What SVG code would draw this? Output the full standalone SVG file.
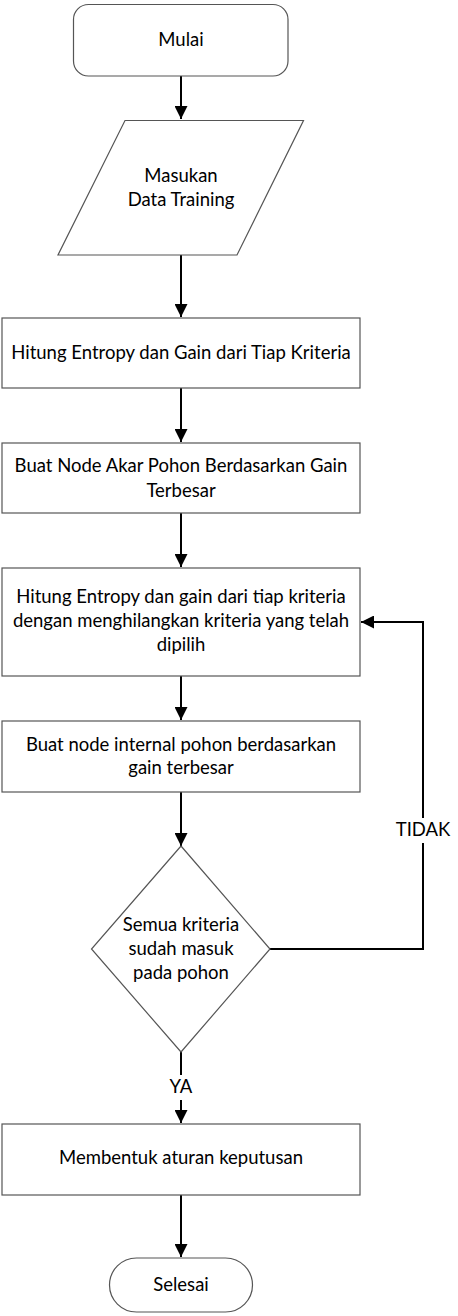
<svg xmlns="http://www.w3.org/2000/svg" width="458" height="1316" viewBox="0 0 458 1316">
<style>
.s{fill:#fff;stroke:#555;stroke-width:1.2}
.t{font-family:Lato,"Open Sans","Liberation Sans",sans-serif;font-size:18.5px;fill:#000;text-anchor:middle}
.c{fill:none;stroke:#000;stroke-width:2}
</style>
<defs>
<marker id="a" viewBox="0 0 12 12" refX="12" refY="6" markerWidth="13" markerHeight="13" markerUnits="userSpaceOnUse" orient="auto">
<path d="M0,0 L12,6 L0,12 Z" fill="#000"/>
</marker>
</defs>
<rect width="458" height="1316" fill="#fff"/>
<g id="connectors">
<path class="c" d="M181,76 V119" marker-end="url(#a)"/>
<path class="c" d="M181,255 V317" marker-end="url(#a)"/>
<path class="c" d="M181,388 V442" marker-end="url(#a)"/>
<path class="c" d="M181,513 V567" marker-end="url(#a)"/>
<path class="c" d="M181,676 V720" marker-end="url(#a)"/>
<path class="c" d="M181,792 V846" marker-end="url(#a)"/>
<path class="c" d="M181,1052 V1075"/>
<path class="c" d="M181,1100 V1123" marker-end="url(#a)"/>
<path class="c" d="M181,1195 V1257" marker-end="url(#a)"/>
<path class="c" d="M270,949 H423 V843"/>
<path class="c" d="M423,818 V622 H361" marker-end="url(#a)"/>
<text class="t" x="181" y="1093">YA</text>
<text class="t" x="423" y="836">TIDAK</text>
</g>
<g id="mulai">
<rect class="s" x="73.5" y="4.5" width="214.5" height="71.5" rx="15"/>
<text class="t" x="181" y="46">Mulai</text>
</g>
<g id="masukan">
<polygon class="s" points="125,120.5 303.5,120.5 237,255 58,255"/>
<text class="t" x="181" y="182">Masukan</text>
<text class="t" x="181" y="206">Data Training</text>
</g>
<g id="hitung1">
<rect class="s" x="2" y="318" width="358" height="70"/>
<text class="t" x="181" y="359">Hitung Entropy dan Gain dari Tiap Kriteria</text>
</g>
<g id="akar">
<rect class="s" x="2" y="443" width="358" height="70"/>
<text class="t" x="181" y="472">Buat Node Akar Pohon Berdasarkan Gain</text>
<text class="t" x="181" y="497">Terbesar</text>
</g>
<g id="hitung2">
<rect class="s" x="2" y="568" width="358" height="108"/>
<text class="t" x="181" y="603">Hitung Entropy dan gain dari tiap kriteria</text>
<text class="t" x="181" y="627">dengan menghilangkan kriteria yang telah</text>
<text class="t" x="181" y="651">dipilih</text>
</g>
<g id="internal">
<rect class="s" x="2" y="721" width="358" height="71"/>
<text class="t" x="181" y="751">Buat node internal pohon berdasarkan</text>
<text class="t" x="181" y="774">gain terbesar</text>
</g>
<g id="keputusan">
<polygon class="s" points="181,846 270,949 181,1052 91.5,949"/>
<text class="t" x="181" y="931">Semua kriteria</text>
<text class="t" x="181" y="955">sudah masuk</text>
<text class="t" x="181" y="979">pada pohon</text>
</g>
<g id="aturan">
<rect class="s" x="2" y="1124" width="358" height="71"/>
<text class="t" x="181" y="1164">Membentuk aturan keputusan</text>
</g>
<g id="selesai">
<rect class="s" x="109.5" y="1258" width="143" height="54" rx="27"/>
<text class="t" x="181" y="1291">Selesai</text>
</g>
</svg>
